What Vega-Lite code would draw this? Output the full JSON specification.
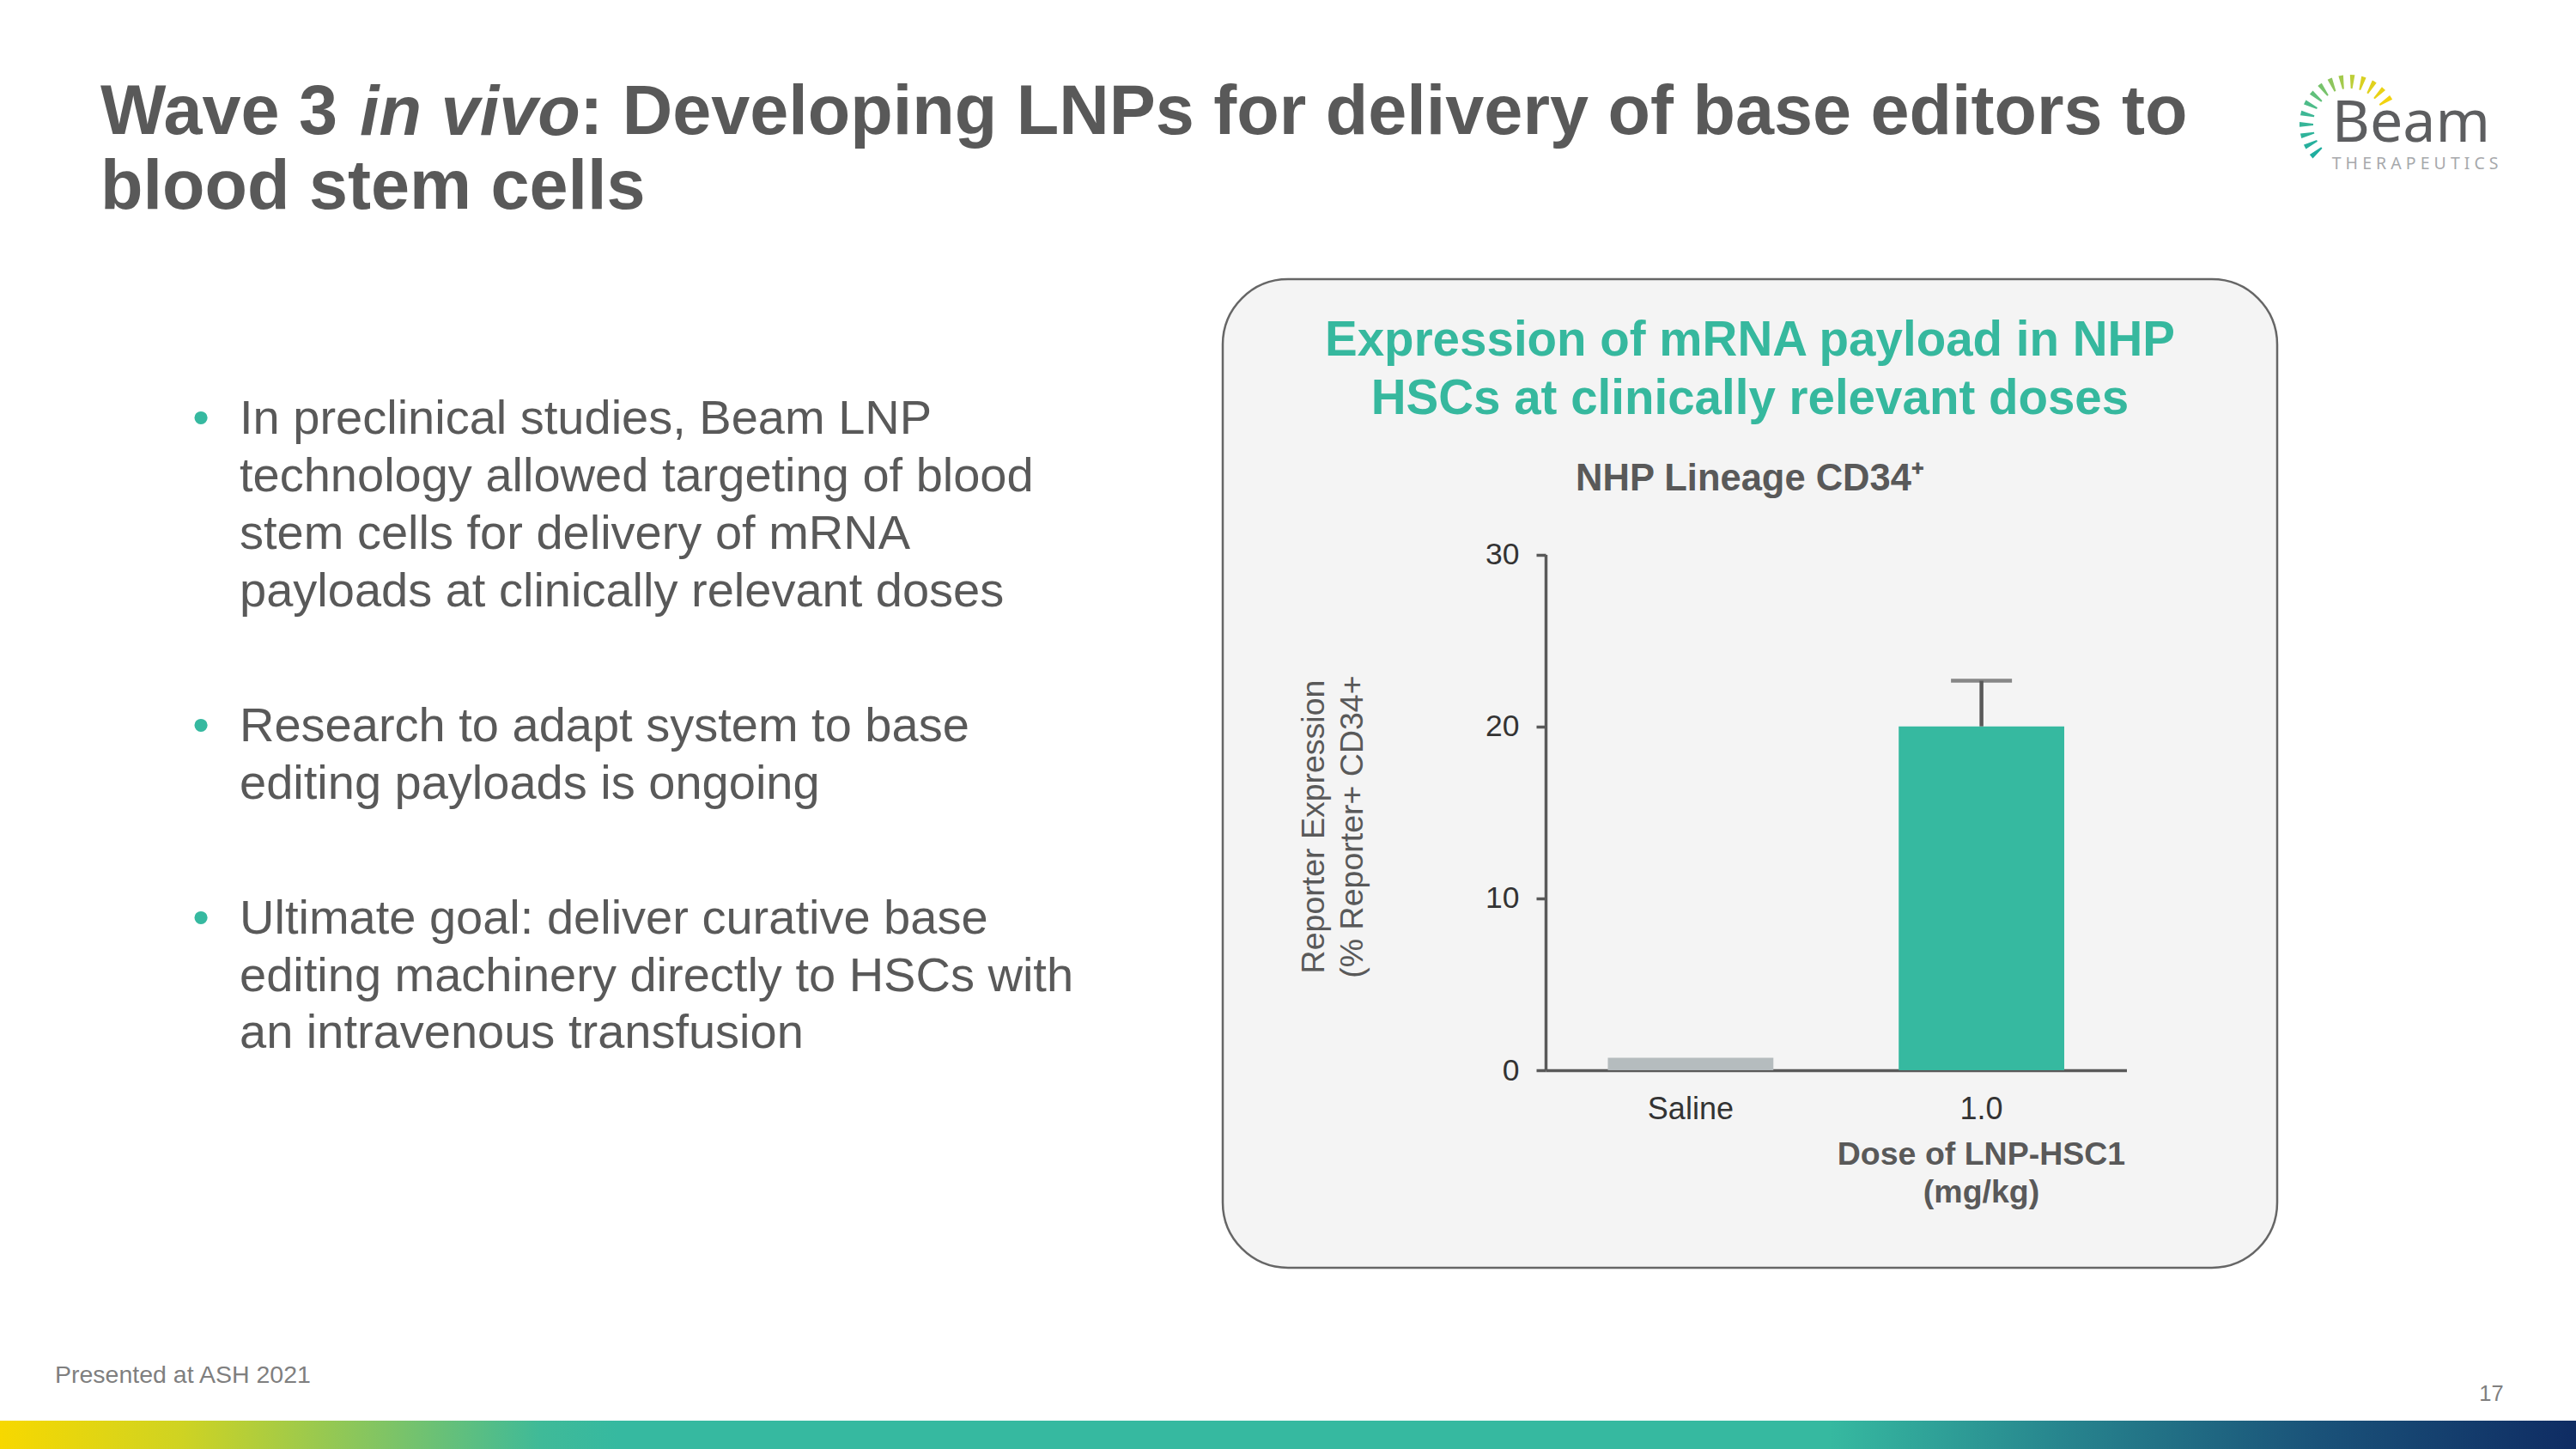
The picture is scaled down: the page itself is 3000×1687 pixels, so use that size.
{
  "$schema": "https://vega.github.io/schema/vega-lite/v6.json",
  "background": "#ffffff",
  "padding": 0,
  "config": {
    "view": {"stroke": null},
    "font": "Liberation Sans",
    "title": {"font": "Liberation Sans", "subtitleFont": "Liberation Sans"},
    "axis": {"labelFont": "Liberation Sans", "titleFont": "Liberation Sans"},
    "text": {"font": "Liberation Sans"}
  },
  "title": {
    "text": "Presented at ASH 2021",
    "orient": "bottom", "anchor": "start", "frame": "group", "baseline": "alphabetic",
    "offset": -77, "dx": 64, "fontSize": 28.5, "fontWeight": "normal", "color": "#7f7f7f"
  },
  "datasets": {
    "bullets": [
      {"bullet": 1, "line": 1, "text": "In preclinical studies, Beam LNP"},
      {"bullet": 1, "line": 2, "text": "technology allowed targeting of blood"},
      {"bullet": 1, "line": 3, "text": "stem cells for delivery of mRNA"},
      {"bullet": 1, "line": 4, "text": "payloads at clinically relevant doses"},
      {"bullet": 2, "line": 1, "text": "Research to adapt system to base"},
      {"bullet": 2, "line": 2, "text": "editing payloads is ongoing"},
      {"bullet": 3, "line": 1, "text": "Ultimate goal: deliver curative base"},
      {"bullet": 3, "line": 2, "text": "editing machinery directly to HSCs with"},
      {"bullet": 3, "line": 3, "text": "an intravenous transfusion"}
    ],
    "expression": [
      {"dose": "Saline", "mean": 0.72},
      {"dose": "1.0", "mean": 20.0, "upper": 22.65}
    ]
  },
  "columns": 3,
  "align": "each",
  "bounds": "flush",
  "spacing": 0,
  "concat": [
    {
      "width": 1424, "height": 325,
      "view": {"fill": "#ffffff"},
      "data": {"values": []},
      "mark": "point",
      "encoding": {
        "x": {"field": "hx", "type": "quantitative", "scale": {"domain": [0, 1]},
          "axis": {"title": "in vivo", "titleFontStyle": "italic", "titleFontWeight": "bold", "titleFontSize": 81,
            "titleColor": "#595959", "titleX": 418.6, "titleY": -169, "titleAlign": "left", "titleBaseline": "alphabetic",
            "labels": false, "ticks": false, "domain": false, "grid": false}}
      },
      "title": {
        "text": ["Wave 3", "blood stem cells"],
        "orient": "bottom", "anchor": "start", "frame": "group", "baseline": "alphabetic",
        "offset": -169, "dx": 117, "fontSize": 81, "fontWeight": "bold", "color": "#595959", "lineHeight": 87
      }
    },
    {
      "width": 1228, "height": 325,
      "data": {"values": []},
      "mark": "point",
      "title": {
        "text": ": Developing LNPs for delivery of base editors to",
        "orient": "bottom", "anchor": "start", "frame": "group", "baseline": "alphabetic",
        "offset": -169, "dx": -748.8, "fontSize": 81, "fontWeight": "bold", "color": "#595959"
      }
    },
    {
      "width": 168, "height": 290,
      "data": {"values": [
        {"ray": 1}, {"ray": 2}, {"ray": 3}, {"ray": 4}, {"ray": 5},
        {"ray": 6}, {"ray": 7}, {"ray": 8}, {"ray": 9}, {"ray": 10},
        {"ray": 11}, {"ray": 12}, {"ray": 13}, {"ray": 14}, {"ray": 15}
      ]},
      "mark": {"type": "arc", "innerRadius": 42, "outerRadius": 58, "padAngle": 0.11},
      "encoding": {
        "theta": {"aggregate": "count", "type": "quantitative", "scale": {"range": [-2.386, 1.112]}},
        "color": {"field": "ray", "type": "quantitative", "legend": null,
          "scale": {"domain": [1, 5, 9, 12, 15], "range": ["#1fae9f", "#3db795", "#8ec55e", "#d9d021", "#f2d30f"]}},
        "order": {"field": "ray", "type": "quantitative", "sort": "ascending"}
      },
      "title": {
        "text": "Beam",
        "subtitle": "T H E R A P E U T I C S",
        "orient": "bottom", "anchor": "start", "frame": "group", "baseline": "alphabetic",
        "offset": -125, "dx": 63.7, "font": "Noto Sans", "fontSize": 68, "fontWeight": "normal", "color": "#5d5e60",
        "subtitleFont": "Noto Sans", "subtitleFontSize": 19.5, "subtitleColor": "#a7a9ac", "subtitlePadding": -36
      }
    },
    {
      "width": 1424, "height": 1329,
      "data": {"name": "bullets"},
      "resolve": {"scale": {"y": "independent"}},
      "layer": [
        {
          "transform": [{"filter": "datum.bullet == 1"}],
          "encoding": {"y": {"field": "line", "type": "ordinal", "axis": null,
            "scale": {"type": "band", "range": [146.5, 414.2], "paddingInner": 0, "paddingOuter": 0}}},
          "layer": [
            {"mark": {"type": "text", "align": "left", "baseline": "alphabetic", "fontSize": 56, "color": "#595959", "dx": -433},
             "encoding": {"text": {"field": "text"}}},
            {"transform": [{"filter": "datum.line == 1"}],
             "mark": {"type": "text", "text": "•", "align": "center", "baseline": "alphabetic", "fontSize": 56, "color": "#36b9a0", "dx": -478},
             "encoding": {}}
          ]
        },
        {
          "transform": [{"filter": "datum.bullet == 2"}],
          "encoding": {"y": {"field": "line", "type": "ordinal", "axis": null,
            "scale": {"type": "band", "range": [504.4, 638.2], "paddingInner": 0, "paddingOuter": 0}}},
          "layer": [
            {"mark": {"type": "text", "align": "left", "baseline": "alphabetic", "fontSize": 56, "color": "#595959", "dx": -433},
             "encoding": {"text": {"field": "text"}}},
            {"transform": [{"filter": "datum.line == 1"}],
             "mark": {"type": "text", "text": "•", "align": "center", "baseline": "alphabetic", "fontSize": 56, "color": "#36b9a0", "dx": -478},
             "encoding": {}}
          ]
        },
        {
          "transform": [{"filter": "datum.bullet == 3"}],
          "encoding": {"y": {"field": "line", "type": "ordinal", "axis": null,
            "scale": {"type": "band", "range": [728.2, 928.9], "paddingInner": 0, "paddingOuter": 0}}},
          "layer": [
            {"mark": {"type": "text", "align": "left", "baseline": "alphabetic", "fontSize": 56, "color": "#595959", "dx": -433},
             "encoding": {"text": {"field": "text"}}},
            {"transform": [{"filter": "datum.line == 1"}],
             "mark": {"type": "text", "text": "•", "align": "center", "baseline": "alphabetic", "fontSize": 56, "color": "#36b9a0", "dx": -478},
             "encoding": {}}
          ]
        }
      ]
    },
    {
      "width": 1228, "height": 1151,
      "view": {"fill": "#f4f4f4", "stroke": "#666666", "strokeWidth": 2.5, "cornerRadius": 76},
      "title": {
        "text": ["Expression of mRNA payload in NHP", "HSCs at clinically relevant doses"],
        "subtitle": "NHP Lineage CD34⁺",
        "orient": "bottom", "anchor": "middle", "frame": "group", "baseline": "alphabetic",
        "offset": -1062, "fontSize": 56.5, "fontWeight": "bold", "color": "#36b89e", "lineHeight": 67.7,
        "subtitleFontSize": 43.5, "subtitleFontWeight": "bold", "subtitleColor": "#595959", "subtitlePadding": 33
      },
      "data": {"name": "expression"},
      "encoding": {
        "x": {"field": "dose", "type": "nominal",
          "scale": {"type": "band", "domain": ["Saline", "1.0"], "range": [376, 1052.5], "paddingInner": 0.4308, "paddingOuter": 0.214},
          "axis": {
            "title": ["Dose of LNP-HSC1", "(mg/kg)"],
            "titleFontSize": 37.5, "titleFontWeight": "bold", "titleColor": "#595959",
            "titleX": 883, "titleY": 109.7, "titleAlign": "center", "titleBaseline": "alphabetic", "titleLineHeight": 44,
            "offset": -230, "domainColor": "#595959", "domainWidth": 3.5,
            "ticks": false, "tickSize": 0, "grid": false,
            "labelFontSize": 36, "labelColor": "#333333", "labelPadding": 56, "labelBaseline": "alphabetic", "labelAngle": 0
          }
        },
        "y": {"field": "mean", "type": "quantitative",
          "scale": {"domain": [0, 30], "range": [921, 320.5], "nice": false, "zero": true},
          "axis": {
            "title": ["Reporter Expression", "(% Reporter+ CD34+"],
            "titleFontSize": 37.5, "titleFontWeight": "normal", "titleColor": "#595959",
            "titleAngle": -90, "titleX": -258.3, "titleY": 637, "titleAlign": "center", "titleBaseline": "alphabetic", "titleLineHeight": 45,
            "offset": -376, "values": [0, 10, 20, 30],
            "domainColor": "#595959", "domainWidth": 3.5,
            "tickColor": "#595959", "tickWidth": 3.5, "tickSize": 11, "grid": false,
            "labelFontSize": 35.5, "labelColor": "#333333", "labelPadding": 20
          }
        }
      },
      "layer": [
        {
          "mark": {"type": "bar"},
          "encoding": {
            "color": {"field": "dose", "type": "nominal", "legend": null,
              "scale": {"domain": ["Saline", "1.0"], "range": ["#b5bcbe", "#36b9a0"]}}
          }
        },
        {
          "transform": [{"filter": "isValid(datum.upper)"}],
          "mark": {"type": "rule", "color": "#595959", "strokeWidth": 4.5},
          "encoding": {"y2": {"field": "upper"}}
        },
        {
          "transform": [{"filter": "isValid(datum.upper)"}],
          "mark": {"type": "tick", "color": "#595959", "thickness": 4.5, "size": 71, "orient": "horizontal"},
          "encoding": {
            "y": {"field": "upper", "type": "quantitative",
              "scale": {"domain": [0, 30], "range": [921, 320.5], "nice": false, "zero": true},
              "axis": {
                "title": ["Reporter Expression", "(% Reporter+ CD34+"],
                "titleFontSize": 37.5, "titleFontWeight": "normal", "titleColor": "#595959",
                "titleAngle": -90, "titleX": -258.3, "titleY": 637, "titleAlign": "center", "titleBaseline": "alphabetic", "titleLineHeight": 45,
                "offset": -376, "values": [0, 10, 20, 30],
                "domainColor": "#595959", "domainWidth": 3.5,
                "tickColor": "#595959", "tickWidth": 3.5, "tickSize": 11, "grid": false,
                "labelFontSize": 35.5, "labelColor": "#333333", "labelPadding": 20
              }
            }
          }
        }
      ]
    },
    {
      "width": 348, "height": 1329,
      "data": {"values": []},
      "mark": "point",
      "title": {
        "text": "17",
        "orient": "bottom", "anchor": "end", "frame": "group", "baseline": "alphabetic",
        "offset": -23.3, "dx": -84.3, "fontSize": 25.5, "fontWeight": "normal", "color": "#7f7f7f"
      }
    },
    {
      "width": 1424, "height": 33.2,
      "data": {"values": [{"band": "footer left"}]},
      "mark": {"type": "rect", "color": {
        "gradient": "linear", "x1": 0, "x2": 1, "y1": 0, "y2": 0,
        "stops": [
          {"offset": 0, "color": "#f7d800"},
          {"offset": 0.1475, "color": "#cfd322"},
          {"offset": 0.316, "color": "#7fc465"},
          {"offset": 0.4424, "color": "#3fba98"},
          {"offset": 0.5056, "color": "#36b9a0"},
          {"offset": 1, "color": "#36b9a0"}
        ]}},
      "encoding": {}
    },
    {
      "width": 1228, "height": 33.2,
      "data": {"values": [{"band": "footer middle"}]},
      "mark": {"type": "rect", "color": {
        "gradient": "linear", "x1": 0, "x2": 1, "y1": 0, "y2": 0,
        "stops": [
          {"offset": 0, "color": "#36b9a0"},
          {"offset": 0.5749, "color": "#36b9a0"},
          {"offset": 0.7948, "color": "#27858e"},
          {"offset": 1, "color": "#1c5a7c"}
        ]}},
      "encoding": {}
    },
    {
      "width": 348, "height": 33.2,
      "data": {"values": [{"band": "footer right"}]},
      "mark": {"type": "rect", "color": {
        "gradient": "linear", "x1": 0, "x2": 1, "y1": 0, "y2": 0,
        "stops": [
          {"offset": 0, "color": "#1c5a7c"},
          {"offset": 0.138, "color": "#1a5279"},
          {"offset": 1, "color": "#0f2c63"}
        ]}},
      "encoding": {}
    }
  ]
}
